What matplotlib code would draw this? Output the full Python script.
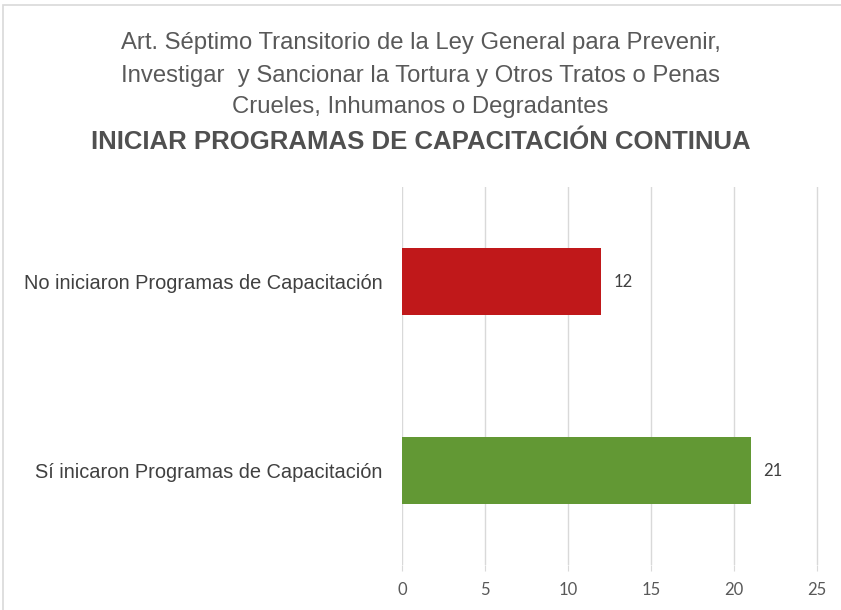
import matplotlib.pyplot as plt
from matplotlib.patches import Rectangle

categories = ["Sí inicaron Programas de Capacitación", "No iniciaron Programas de Capacitación"]
values = [21, 12]
colors = ["#629834", "#C0181A"]
xticks = [0, 5, 10, 15, 20, 25]

narrow = ["Liberation Sans Narrow", "Liberation Sans", "DejaVu Sans"]
numfont = ["Lato", "DejaVu Sans"]

fig = plt.figure(figsize=(8.41, 6.1), dpi=100)
fig.patches.append(Rectangle((3 / 841, -0.1), 1.2, 1 - 5 / 610 + 0.1,
                             transform=fig.transFigure, fill=False,
                             edgecolor="#D9D9D9", linewidth=1.2))

# a touch of room past 25 so the last gridline is not clipped
ax = fig.add_axes([402 / 841, 1 - 565 / 610, 417 / 841, 378 / 610])
y = range(len(categories))
ax.barh(y, values, height=0.355, color=colors, zorder=3)
for yi, v in zip(y, values):
    ax.text(v + 0.75, yi, str(v), va="center", ha="left", fontsize=12,
            color="#404040", family=numfont)

ax.set_xlim(0, 25 * 417 / 415)
ax.set_ylim(-0.5, 1.5)
ax.set_xticks(xticks)
ax.set_xticklabels([str(t) for t in xticks], family=numfont,
                   fontsize=12, color="#595959")
ax.set_yticks(list(y))
ax.set_yticklabels(categories, family=narrow, fontsize=14.4, color="#404040")
ax.tick_params(axis="y", length=0, pad=14)
ax.tick_params(axis="x", length=4, color="#D9D9D9", pad=8)
ax.grid(axis="x", color="#D9D9D9", linewidth=1, zorder=0)
for s in ax.spines.values():
    s.set_visible(False)

fig.text(0.5, 1 - 43 / 610, "Art. Séptimo Transitorio de la Ley General para Prevenir,",
         ha="center", va="center", fontsize=17.2, color="#595959", family=narrow)
fig.text(0.5, 1 - 76 / 610, "Investigar  y Sancionar la Tortura y Otros Tratos o Penas",
         ha="center", va="center", fontsize=17.2, color="#595959", family=narrow)
fig.text(0.5, 1 - 107 / 610, "Crueles, Inhumanos o Degradantes",
         ha="center", va="center", fontsize=17.2, color="#595959", family=narrow)
fig.text(0.5, 1 - 142 / 610, "INICIAR PROGRAMAS DE CAPACITACIÓN CONTINUA",
         ha="center", va="center", fontsize=18.5, fontweight="bold", color="#505050", family=narrow)

fig.savefig("out.png", dpi=100)
